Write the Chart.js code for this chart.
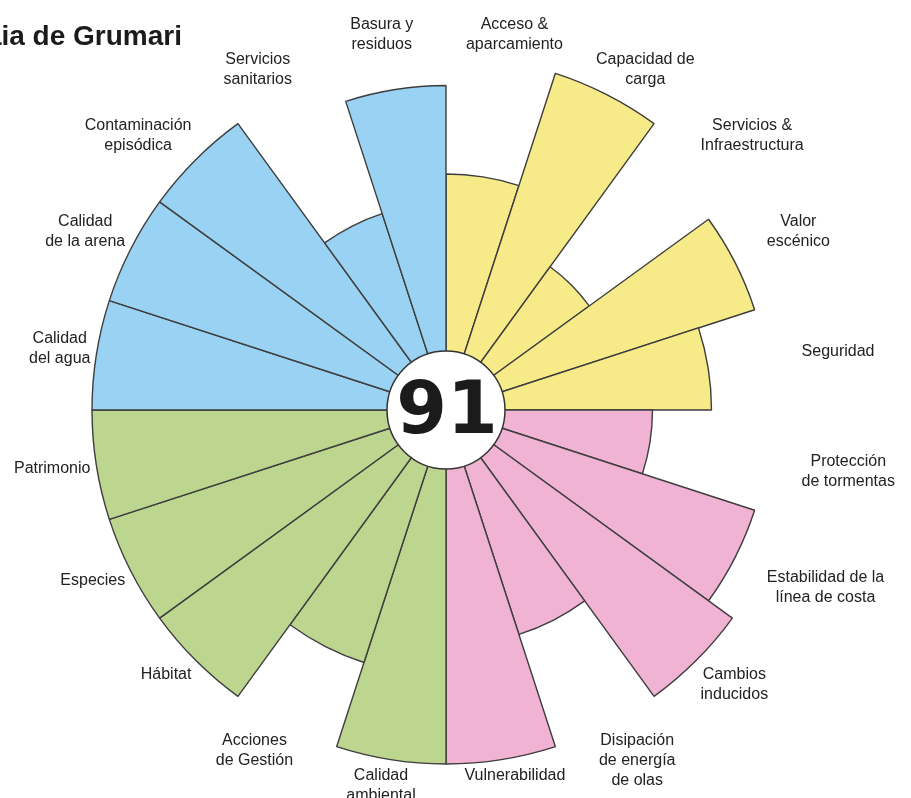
<!DOCTYPE html>
<html>
<head>
<meta charset="utf-8">
<script src="https://cdn.jsdelivr.net/npm/chart.js@4/dist/chart.umd.min.js"></script>
<style>
  html, body { margin: 0; padding: 0; background: #ffffff; overflow: hidden; }
  #wrap { position: relative; width: 911px; height: 798px; }
</style>
</head>
<body>
<div id="wrap"><canvas id="c" width="911" height="798"></canvas></div>
<script>
// ---- data ----
const chartTitle = "Praia de Grumari";
const overallScore = "91";
const categories = [
  ["Acceso &", "aparcamiento"],
  ["Capacidad de", "carga"],
  ["Servicios &", "Infraestructura"],
  ["Valor", "escénico"],
  ["Seguridad"],
  ["Protección", "de tormentas"],
  ["Estabilidad de la", "línea de costa"],
  ["Cambios", "inducidos"],
  ["Disipación", "de energía", "de olas"],
  ["Vulnerabilidad"],
  ["Calidad", "ambiental"],
  ["Acciones", "de Gestión"],
  ["Hábitat"],
  ["Especies"],
  ["Patrimonio"],
  ["Calidad", "del agua"],
  ["Calidad", "de la arena"],
  ["Contaminación", "episódica"],
  ["Servicios", "sanitarios"],
  ["Basura y", "residuos"]
];
const scores = [6, 10, 4, 9, 7, 5, 9, 10, 6, 10, 10, 7, 10, 10, 10, 10, 10, 10, 5, 9];
const groups = [
  "Uso", "Uso", "Uso", "Uso", "Uso",
  "Riesgo", "Riesgo", "Riesgo", "Riesgo", "Riesgo",
  "Conservación", "Conservación", "Conservación", "Conservación", "Conservación",
  "Calidad", "Calidad", "Calidad", "Calidad", "Calidad"
];

// ---- styles ----
const groupColors = {
  "Uso": "#f7eb89",
  "Riesgo": "#f1b3d3",
  "Conservación": "#bdd68f",
  "Calidad": "#99d2f2"
};
const LABEL_FONT = '16px "Liberation Sans", Arial, sans-serif';
const LINE_H = 20;
const LABEL_GAP = 5;

function clamp1(v) { return Math.max(-1, Math.min(1, v)); }

const decorPlugin = {
  id: 'decor',
  afterDatasetsDraw(chart) {
    const ctx = chart.ctx;
    const r = chart.scales.r;
    const cx = r.xCenter, cy = r.yCenter;
    // hub circle at value 0
    const hubR = r.getDistanceFromCenterForValue(0);
    ctx.save();
    ctx.beginPath();
    ctx.arc(cx, cy, hubR, 0, Math.PI * 2);
    ctx.fillStyle = '#ffffff';
    ctx.fill();
    ctx.lineWidth = 1.5;
    ctx.strokeStyle = '#333333';
    ctx.stroke();
    ctx.fillStyle = '#1b1b1b';
    ctx.font = 'bold 73px "DejaVu Sans", Verdana, sans-serif';
    ctx.textAlign = 'center';
    ctx.textBaseline = 'alphabetic';
    ctx.fillText(overallScore, cx + 1, cy + 23);

    // category labels
    ctx.font = LABEL_FONT;
    ctx.fillStyle = '#222222';
    ctx.textBaseline = 'middle';
    const n = categories.length;
    const base = r.drawingArea + 1;
    categories.forEach((lines, i) => {
      const theta = (i + 0.5) * (2 * Math.PI / n); // clockwise from top
      const s = Math.sin(theta), c = Math.cos(theta);
      let w = 0;
      lines.forEach(l => { w = Math.max(w, ctx.measureText(l).width); });
      const hw = w / 2;
      const hh = (lines.length * LINE_H) / 2;
      const ax = cx + (base + LABEL_GAP) * s;
      const ay = cy - (base + LABEL_GAP) * c;
      const lx = ax + hw * clamp1(1.6 * s);
      const ly = ay - hh * clamp1(1.6 * c);
      lines.forEach((l, k) => {
        ctx.fillText(l, lx, ly - hh + LINE_H * (k + 0.5));
      });
    });

    // title (partly outside the canvas on the left, as in the source)
    ctx.font = 'bold 28px "Liberation Sans", Arial, sans-serif';
    ctx.fillStyle = '#1b1b1b';
    ctx.textAlign = 'right';
    ctx.textBaseline = 'alphabetic';
    ctx.fillText(chartTitle, 182, 45);
    ctx.restore();
  }
};

new Chart(document.getElementById('c'), {
  type: 'polarArea',
  data: {
    labels: categories,
    datasets: [{
      data: scores,
      backgroundColor: groups.map(g => groupColors[g]),
      borderColor: '#3d3d3d',
      borderWidth: 1.4
    }]
  },
  options: {
    responsive: false,
    animation: false,
    layout: { padding: { left: 92, top: 56, right: 111, bottom: 34 } },
    scales: {
      r: {
        min: -2,
        max: 10,
        ticks: { display: false },
        grid: { display: false },
        angleLines: { display: false },
        pointLabels: { display: false }
      }
    },
    plugins: {
      legend: { display: false },
      tooltip: { enabled: false },
      title: { display: false }
    }
  },
  plugins: [decorPlugin]
});
</script>
</body>
</html>
